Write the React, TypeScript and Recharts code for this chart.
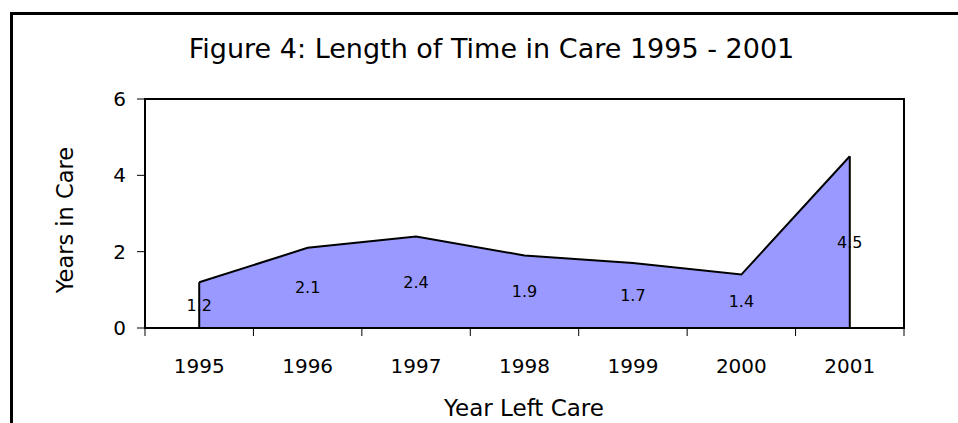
import React from "react";
import {
  AreaChart,
  Area,
  XAxis,
  YAxis,
  LabelList,
  ReferenceArea,
  ReferenceLine,
} from "recharts";

const years = ["1995", "1996", "1997", "1998", "1999", "2000", "2001"];
const yearsInCare = [1.2, 2.1, 2.4, 1.9, 1.7, 1.4, 4.5];
const yTicks = [0, 2, 4, 6];

const FONT = "DejaVu Sans";
const W = 958;
const H = 423;
const PLOT_BOTTOM = 328;

const data = years.map((year, i) => ({ i, year, value: yearsInCare[i] }));
// tick marks sit between categories, labels at category centres
const xTicks = years.flatMap((_, i) => [i - 0.5, i]).concat(years.length - 0.5);

function YearTick(props: any) {
  const { x, y, payload } = props;
  const v = payload.value;
  if (Number.isInteger(v)) {
    return (
      <text x={x} y={y + 45} textAnchor="middle" fontFamily={FONT} fontSize={20} fill="#000">
        {years[v]}
      </text>
    );
  }
  return <line x1={x} x2={x} y1={y} y2={y + 8} stroke="#000" strokeWidth={1} />;
}

function MidLabel(props: any) {
  const { x, y, value } = props;
  return (
    <text
      x={x}
      y={y + (PLOT_BOTTOM - y) / 2}
      textAnchor="middle"
      dominantBaseline="central"
      fontFamily={FONT}
      fontSize={16}
      fill="#000"
    >
      {value}
    </text>
  );
}

export default function App() {
  const last = years.length - 1;
  return (
    <div style={{ position: "fixed", left: 0, top: 0, width: W, height: H, overflow: "hidden", background: "#fff" }}>
      {/* outer chart frame, only top and left edges are in view */}
      <div
        style={{
          position: "absolute",
          left: 10,
          top: 12,
          width: W - 10,
          height: H - 12,
          borderTop: "3px solid #000",
          borderLeft: "3px solid #000",
          boxSizing: "border-box",
        }}
      />
      <div style={{ position: "absolute", left: 0, top: 0 }}>
        <AreaChart
          width={W}
          height={H}
          data={data}
          margin={{ top: 99, right: 54, bottom: 65, left: 85 }}
        >
          <XAxis
            dataKey="i"
            type="number"
            domain={[-0.5, last + 0.5]}
            ticks={xTicks}
            interval={0}
            height={30}
            tickSize={0}
            tickMargin={0}
            tickLine={false}
            tick={<YearTick />}
            axisLine={{ stroke: "#000", strokeWidth: 2 }}
          />
          <YAxis
            domain={[0, 6]}
            ticks={yTicks}
            width={60}
            tickSize={8}
            tickMargin={11}
            tickLine={{ stroke: "#000" }}
            axisLine={{ stroke: "#000", strokeWidth: 2 }}
            tick={{ fill: "#000", fontSize: 20, fontFamily: FONT }}
          />
          <Area
            type="linear"
            dataKey="value"
            stroke="#000"
            strokeWidth={2}
            fill="#9999FF"
            fillOpacity={1}
            dot={false}
            activeDot={false}
            isAnimationActive={false}
          >
            <LabelList dataKey="value" content={<MidLabel />} />
          </Area>
          <ReferenceLine
            segment={[{ x: 0, y: 0 }, { x: 0, y: yearsInCare[0] }]}
            stroke="#000"
            strokeWidth={2}
          />
          <ReferenceLine
            segment={[{ x: last, y: 0 }, { x: last, y: yearsInCare[last] }]}
            stroke="#000"
            strokeWidth={2}
          />
          <ReferenceArea
            x1={-0.5}
            x2={last + 0.5}
            y1={0}
            y2={6}
            fill="none"
            stroke="#000"
            strokeWidth={2}
          />
        </AreaChart>
      </div>
      <svg width={W} height={H} style={{ position: "absolute", left: 0, top: 0, pointerEvents: "none" }}>
        <text x={491.5} y={58} textAnchor="middle" fontFamily={FONT} fontSize={27} fill="#000">
          Figure 4: Length of Time in Care 1995 - 2001
        </text>
        <text
          x={73}
          y={220}
          transform="rotate(-90, 73, 220)"
          textAnchor="middle"
          fontFamily={FONT}
          fontSize={22.5}
          fill="#000"
        >
          Years in Care
        </text>
        <text x={524} y={415.7} textAnchor="middle" fontFamily={FONT} fontSize={23} fill="#000">
          Year Left Care
        </text>
      </svg>
    </div>
  );
}
